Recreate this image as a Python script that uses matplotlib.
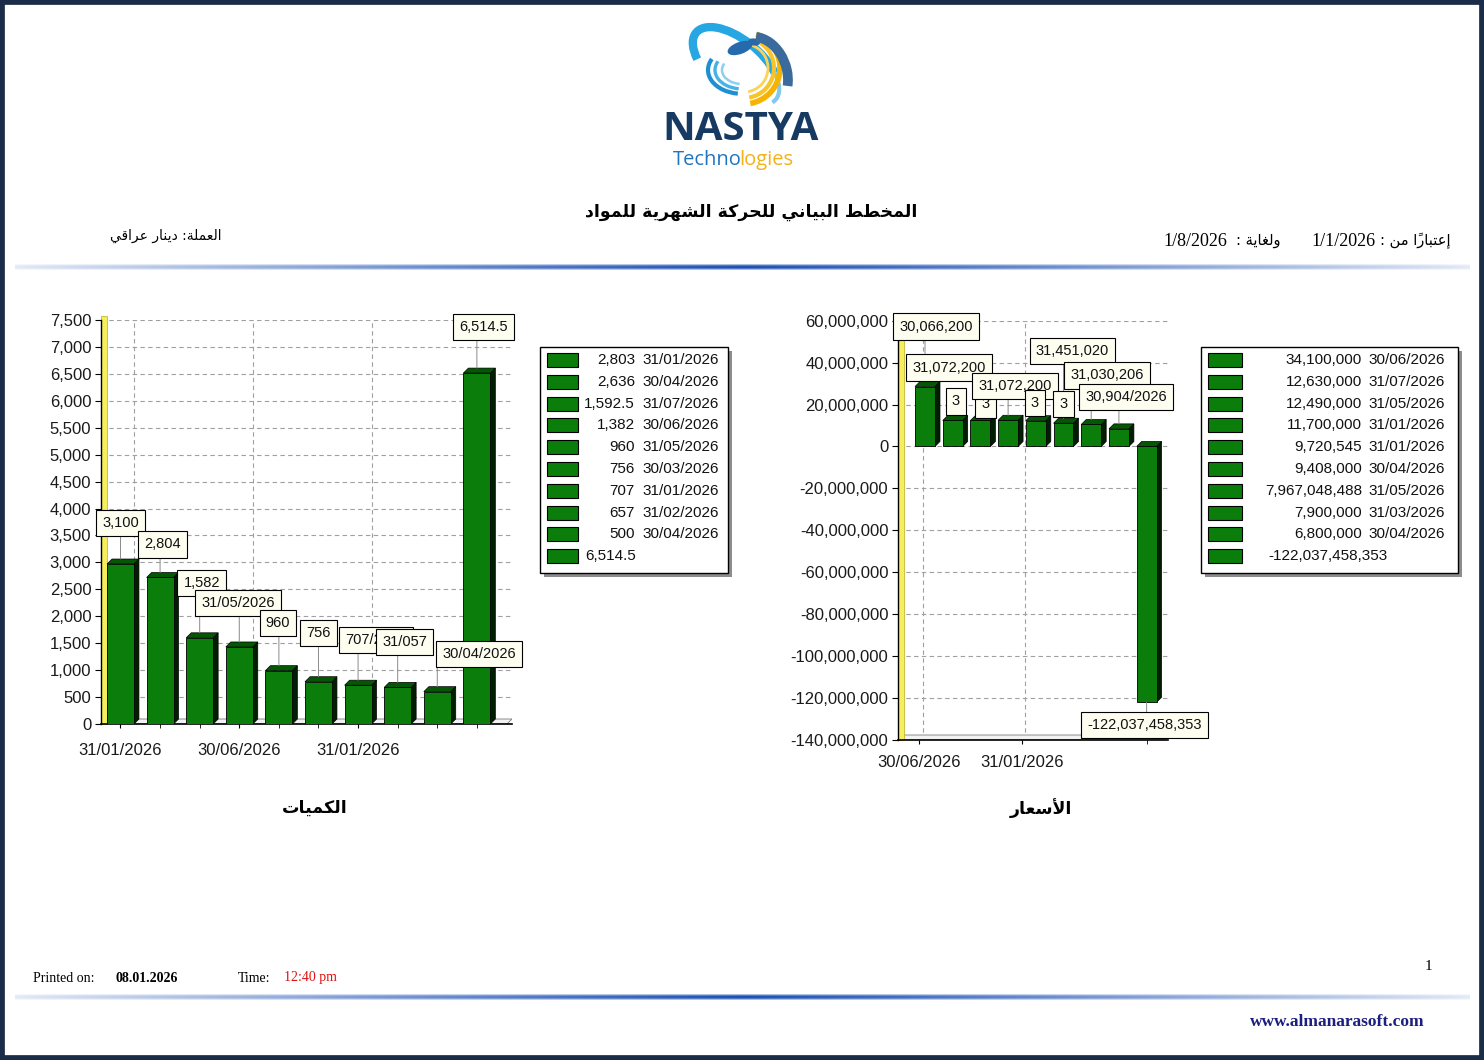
import numpy as np
import matplotlib
matplotlib.use("Agg")
import matplotlib.pyplot as plt
from matplotlib.patches import Rectangle, Polygon, Arc, Ellipse
from matplotlib.ticker import FuncFormatter, FixedLocator

W, H = 1484, 1060

qty_values = [2970, 2720, 1600, 1430, 990, 785, 720, 680, 600, 6514.5]
qty_labels = ["3,100", "2,804", "1,582", "31/05/2026", "960", "756",
              "707/2026", "31/057", "30/04/2026", "6,514.5"]
qty_xticks = ["31/01/2026", "30/06/2026", "31/01/2026"]
qty_legend_values = ["2,803", "2,636", "1,592.5", "1,382", "960", "756",
                     "707", "657", "500", "6,514.5"]
qty_legend_dates = ["31/01/2026", "30/04/2026", "31/07/2026", "30/06/2026",
                    "31/05/2026", "30/03/2026", "31/01/2026", "31/02/2026",
                    "30/04/2026", ""]

price_values = [28.6e6, 12.4e6, 12.4e6, 12.5e6, 12.3e6, 11.1e6, 10.5e6, 8.4e6, -122.0e6]
price_labels = ["30,066,200", "31,072,200", "3", "3", "31,072,200", "3", "3",
                "31,451,020", "31,030,206", "30,904/2026", "-122,037,458,353"]
price_label_bar = [0, 0, 1, 2, 3, 4, 5, 5, 6, 7, 8]
price_xticks = ["30/06/2026", "31/01/2026"]
price_legend_values = ["34,100,000", "12,630,000", "12,490,000", "11,700,000",
                       "9,720,545", "9,408,000", "7,967,048,488", "7,900,000",
                       "6,800,000", "-122,037,458,353"]
price_legend_dates = ["30/06/2026", "31/07/2026", "31/05/2026", "31/01/2026",
                      "31/01/2026", "30/04/2026", "31/05/2026", "31/03/2026",
                      "30/04/2026", ""]

# label box offsets from the bar top, in pixels (layout only)
qty_label_off = [(0, 36), (2, 28), (2, 50), (-1, 39), (-1, 43), (0, 44),
                 (18, 40), (7, 40), (42, 33), (7, 41)]
price_label_off = [(11, 55), (24, 14), (3, 14), (5, 11), (7, 29), (-1, 13),
                   (0, 14), (9, 67), (16, 44), (7, 27), (-2, -23)]

# ---- minimal arabic shaping (matplotlib has no RTL/joining) ----
AR_FORMS = {'آ': 0xFE81, 'أ': 0xFE83, 'إ': 0xFE87, 'ا': 0xFE8D, 'ب': 0xFE8F,
            'ة': 0xFE93, 'ت': 0xFE95, 'ث': 0xFE99, 'ج': 0xFE9D, 'ح': 0xFEA1,
            'خ': 0xFEA5, 'د': 0xFEA9, 'ذ': 0xFEAB, 'ر': 0xFEAD, 'ز': 0xFEAF,
            'س': 0xFEB1, 'ش': 0xFEB5, 'ص': 0xFEB9, 'ض': 0xFEBD, 'ط': 0xFEC1,
            'ظ': 0xFEC5, 'ع': 0xFEC9, 'غ': 0xFECD, 'ف': 0xFED1, 'ق': 0xFED5,
            'ك': 0xFED9, 'ل': 0xFEDD, 'م': 0xFEE1, 'ن': 0xFEE5, 'ه': 0xFEE9,
            'و': 0xFEED, 'ى': 0xFEEF, 'ي': 0xFEF1}
AR_RIGHT_ONLY = set('آأإادذرزوةى')
LAM_ALEF = {'آ': 0xFEF5, 'أ': 0xFEF7, 'إ': 0xFEF9, 'ا': 0xFEFB}


def is_mark(c):
    return '\u064b' <= c <= '\u0652'


def ar(text):
    """Shape arabic letters into presentation forms and reverse for display"""
    chars = list(text)
    n = len(chars)

    def neighbour(i, step):
        j = i + step
        while 0 <= j < n and is_mark(chars[j]):
            j += step
        return chars[j] if 0 <= j < n else None

    clusters = []
    i = 0
    while i < n:
        c = chars[i]
        if is_mark(c):
            if clusters:
                clusters[-1] += c
            else:
                clusters.append(c)
            i += 1
            continue
        if c not in AR_FORMS:
            clusters.append(c)
            i += 1
            continue
        prev = neighbour(i, -1)
        joins_prev = prev in AR_FORMS and prev not in AR_RIGHT_ONLY
        nxt = neighbour(i, 1)
        if c == 'ل' and nxt in LAM_ALEF:
            clusters.append(chr(LAM_ALEF[nxt] + (1 if joins_prev else 0)))
            j = i + 1
            while is_mark(chars[j]):
                j += 1
            i = j + 1
            continue
        joins_next = c not in AR_RIGHT_ONLY and nxt in AR_FORMS
        if joins_prev and joins_next:
            form = 3
        elif joins_prev:
            form = 1
        elif joins_next:
            form = 2
        else:
            form = 0
        clusters.append(chr(AR_FORMS[c] + form))
        i += 1
    return ''.join(reversed(clusters))


SANS = "Liberation Sans"
SERIF = "Liberation Serif"
ARAB = "DejaVu Sans"

FRONT = "#0a7d0a"
TOP = "#045804"
SIDE = "#021e02"
BOX_FC = "#fdfdf0"


def axes_px(fig, left, top, right, bottom):
    return fig.add_axes([left / W, 1 - bottom / H, (right - left) / W, (bottom - top) / H])


def draw_bars(ax, values, width, depth=5):
    x0, x1 = ax.get_xlim()
    y0, y1 = ax.get_ylim()
    dx = depth * (x1 - x0) / ax.bbox.width
    dy = depth * (y1 - y0) / ax.bbox.height
    pos = np.arange(len(values))
    for x, v in zip(pos, values):
        lo, hi = min(0, v), max(0, v)
        l, r = x - width / 2, x + width / 2
        ax.add_patch(Polygon([(r, lo), (r + dx, lo + dy), (r + dx, hi + dy), (r, hi)],
                             closed=True, fc=SIDE, ec="black", lw=0.5, zorder=3))
        ax.add_patch(Polygon([(l, hi), (l + dx, hi + dy), (r + dx, hi + dy), (r, hi)],
                             closed=True, fc=TOP, ec="black", lw=0.5, zorder=3))
        ax.add_patch(Rectangle((l, lo), width, hi - lo, fc=FRONT, ec="black",
                               lw=0.6, zorder=4))
    return pos, dx, dy


def style_chart(ax, ylim, xlim, yticks, fmt_pad):
    ax.set_xlim(*xlim)
    ax.set_ylim(*ylim)
    ax.set_facecolor("none")
    for s in ("top", "right"):
        ax.spines[s].set_visible(False)
    ax.spines["left"].set_linewidth(1.0)
    ax.spines["bottom"].set_linewidth(1.2)
    ax.yaxis.set_major_locator(FixedLocator(yticks))
    ax.yaxis.set_major_formatter(FuncFormatter(lambda v, p: f"{v:,.0f}"))
    ax.yaxis.grid(True, ls=(0, (4, 3)), color="#a0a0a0", lw=0.8, zorder=0)
    ax.set_axisbelow(True)
    ax.tick_params(axis="y", direction="out", length=4, width=0.8, labelsize=12, pad=3)
    ax.tick_params(axis="x", direction="out", length=3, width=0.8, labelsize=12, pad=fmt_pad)
    for lab in ax.get_yticklabels() + ax.get_xticklabels():
        lab.set_fontfamily(SANS)
        lab.set_color("#1a1a1a")
    # yellow left wall
    ax.add_patch(Rectangle((0, 0), 6 / ax.bbox.width, 1.01, transform=ax.transAxes,
                           fc="#f6ee5c", ec="#b9ad20", lw=0.5, zorder=2, clip_on=False))


def floor(ax, base, dx, dy):
    x0, x1 = ax.get_xlim()
    ax.add_patch(Polygon([(x0, base), (x1 - dx, base), (x1, base + dy), (x0 + dx, base + dy)],
                         closed=True, fc="#f2f2f2", ec="#7a7a7a", lw=0.6, zorder=1))


def label_boxes(ax, pos, values, texts, bars, offsets, dy):
    for k, (t, b, off) in enumerate(zip(texts, bars, offsets)):
        v = values[b]
        y = v + dy if v >= 0 else v
        # vertical leader from the bar up (or down) to the box
        ax.annotate("", xy=(pos[b], y), xytext=(0, off[1]), textcoords="offset pixels",
                    annotation_clip=False, zorder=9,
                    arrowprops=dict(arrowstyle="-", color="#8a8a8a", lw=0.7,
                                    shrinkA=0, shrinkB=0))
        ax.annotate(t, xy=(pos[b], y), xytext=off, textcoords="offset pixels",
                    ha="center", va="center", fontsize=10.5, fontfamily=SANS,
                    color="#111111", annotation_clip=False, zorder=10 + k,
                    bbox=dict(boxstyle="square,pad=0.42", fc=BOX_FC, ec="black", lw=0.8))


def legend_box(page, x0, y0, x1, y1, values, dates, sw_x0, sw_x1, val_right, date_left, last_left):
    page.add_patch(Rectangle((x0 + 4, y0 + 4), x1 - x0, y1 - y0, fc="#8c8c8c", ec="none", zorder=2))
    page.add_patch(Rectangle((x0, y0), x1 - x0, y1 - y0, fc="white", ec="black", lw=1.0, zorder=3))
    for i, (v, d) in enumerate(zip(values, dates)):
        yc = y0 + 13 + i * 21.8
        page.add_patch(Rectangle((sw_x0, yc - 7), sw_x1 - sw_x0, 14, fc=FRONT, ec="black",
                                 lw=0.8, zorder=4))
        if d:
            page.text(val_right, yc, v, ha="right", va="center", fontsize=11,
                      fontfamily=SANS, color="#111111", zorder=5)
            page.text(date_left, yc, d, ha="left", va="center", fontsize=11,
                      fontfamily=SANS, color="#111111", zorder=5)
        else:
            page.text(last_left, yc, v, ha="left", va="center", fontsize=11,
                      fontfamily=SANS, color="#111111", zorder=5)


def gradient_line(page, x0, x1, yc):
    n = 600
    t = np.linspace(-1, 1, n)
    alpha_x = 0.12 + 0.88 * (1 - np.abs(t)) ** 0.9
    alpha_y = np.array([0.35, 0.85, 1.0, 0.85, 0.35])
    img = np.zeros((5, n, 4))
    img[..., 0] = 0.05
    img[..., 1] = 0.27
    img[..., 2] = 0.68
    img[..., 3] = alpha_y[:, None] * alpha_x[None, :]
    page.imshow(img, extent=(x0, x1, yc + 3, yc - 3), aspect="auto", zorder=2,
                interpolation="bilinear")


def draw_logo(page):
    cx, cy = 744, 68
    # blue swoosh ring
    page.add_patch(Arc((cx - 8, cy - 2), 104, 52, angle=40, theta1=150, theta2=330,
                       color="#26a6e2", lw=6, zorder=3))
    page.add_patch(Arc((cx - 8, cy - 2), 104, 52, angle=40, theta1=330, theta2=365,
                       color="#7fc9ee", lw=3, zorder=3))
    # yellow stripes on the globe
    for k, r in enumerate([36, 30, 24]):
        page.add_patch(Arc((cx, cy), 2 * r, 2 * r, theta1=-70, theta2=80,
                           color=["#f6b400", "#f8c42a", "#fbd35a"][k], lw=4 - k, zorder=3))
    # blue stripes on the left side
    for k, r in enumerate([34, 27, 20]):
        page.add_patch(Arc((cx - 2, cy + 2), 2 * r, 1.4 * r, theta1=100, theta2=200,
                           color=["#1d8fd3", "#45b2e8", "#8ccfee"][k], lw=3 - k * 0.6, zorder=3))
    # continents
    page.add_patch(Ellipse((cx - 4, cy - 20), 26, 12, angle=-20, fc="#2769ad", ec="none", zorder=3))
    page.add_patch(Ellipse((cx + 10, cy - 26), 12, 7, angle=10, fc="#2769ad", ec="none", zorder=3))
    # dark blue swoosh on the right
    page.add_patch(Arc((cx + 14, cy + 6), 58, 76, angle=-18, theta1=-75, theta2=40,
                       color="#3b6a9c", lw=7, zorder=3))
    page.text(741, 129, "NASTYA", ha="center", va="center", fontsize=29, fontweight="bold",
              fontfamily="Open Sans", color="#173a62", zorder=4)
    page.text(742, 160, "Techno", ha="right", va="center", fontsize=14.5,
              fontfamily="Open Sans", color="#1f76c0", zorder=4)
    page.text(739, 160, "logies", ha="left", va="center", fontsize=14.5,
              fontfamily="Open Sans", color="#f3b11a", zorder=4)


def plot():
    fig = plt.figure(figsize=(W / 100, H / 100), dpi=100)
    fig.patch.set_facecolor("white")

    page = fig.add_axes([0, 0, 1, 1], zorder=0)
    page.set_xlim(0, W)
    page.set_ylim(H, 0)
    page.axis("off")

    # frame and separators
    page.add_patch(Rectangle((0, 0), W, H, fill=False, ec="#1b2c48", lw=7, zorder=20))
    gradient_line(page, 15, 1470, 267)
    gradient_line(page, 15, 1470, 997)
    draw_logo(page)

    # header texts
    page.text(751, 212, ar("المخطط البياني للحركة الشهرية للمواد"), ha="center", va="center",
              fontsize=12.5, fontweight="bold", fontfamily=ARAB, color="black")
    page.text(222, 236, ar("العملة: دينار عراقي"), ha="right", va="center",
              fontsize=10, fontfamily=ARAB, color="black")
    page.text(1450, 241, ar("إعتباراً من :"), ha="right", va="center",
              fontsize=10.5, fontfamily=ARAB, color="black")
    page.text(1343, 241, "1/1/2026", ha="center", va="center", fontsize=13,
              fontfamily=SERIF, color="black")
    page.text(1280, 241, ar("ولغاية :"), ha="right", va="center",
              fontsize=10.5, fontfamily=ARAB, color="black")
    page.text(1195, 241, "1/8/2026", ha="center", va="center", fontsize=13,
              fontfamily=SERIF, color="black")

    # chart captions
    page.text(315, 808, ar("الكميات"), ha="center", va="center", fontsize=12.5,
              fontweight="bold", fontfamily=ARAB, color="black")
    page.text(1041, 808, ar("الأسعار"), ha="center", va="center", fontsize=12.5,
              fontweight="bold", fontfamily=ARAB, color="black")

    # footer
    page.text(33, 978, "Printed on:", ha="left", va="center", fontsize=10, fontfamily=SERIF)
    page.text(116, 978, "08.01.2026", ha="left", va="center", fontsize=10,
              fontweight="bold", fontfamily=SERIF)
    page.text(238, 978, "Time:", ha="left", va="center", fontsize=10, fontfamily=SERIF)
    page.text(284, 978, "12:40 pm", ha="left", va="center", fontsize=10,
              fontfamily=SERIF, color="#e01010")
    page.text(1428, 967, "1", ha="center", va="center", fontsize=11, fontfamily=SERIF)
    page.text(1425, 1022, "www.almanarasoft.com", ha="right", va="center", fontsize=12.5,
              fontweight="bold", fontfamily=SERIF, color="#1a1f80")

    # ---- quantities chart ----
    ax1 = axes_px(fig, 101, 320, 512, 724)
    ax1.set_zorder(1)
    style_chart(ax1, (0, 7500), (-0.492, 9.887), np.arange(0, 7501, 500), 11)
    pos1, dx1, dy1 = draw_bars(ax1, qty_values, 0.68)
    floor(ax1, 0, dx1, dy1)
    ax1.set_xticks([0, 3, 6])
    ax1.set_xticklabels(qty_xticks, fontfamily=SANS, color="#1a1a1a")
    ax1.set_xticks(pos1, minor=True)
    ax1.tick_params(axis="x", which="minor", length=3, width=0.6)
    for t in [0, 3, 6]:
        ax1.axvline(t + 0.34, ls=(0, (4, 3)), color="#a0a0a0", lw=0.8, zorder=0)
    label_boxes(ax1, pos1, qty_values, qty_labels, list(range(len(qty_labels))),
                qty_label_off, dy1)

    # ---- prices chart ----
    ax2 = axes_px(fig, 898, 320.7, 1168, 740)
    ax2.set_zorder(1)
    style_chart(ax2, (-140e6, 60e6), (-0.975, 8.772), np.arange(-140e6, 60e6 + 1, 20e6), 8)
    pos2, dx2, dy2 = draw_bars(ax2, price_values, 0.72)
    floor(ax2, -140e6, dx2, dy2)
    ax2.set_xticks([-0.2, 3.5])
    ax2.set_xticklabels(price_xticks, fontfamily=SANS, color="#1a1a1a")
    ax2.set_xticks([8], minor=True)
    ax2.tick_params(axis="x", which="minor", length=3, width=0.6)
    for t in [-0.2, 3.5]:
        ax2.axvline(t + 0.12, ls=(0, (4, 3)), color="#a0a0a0", lw=0.8, zorder=0)
    label_boxes(ax2, pos2, price_values, price_labels, price_label_bar,
                price_label_off, dy2)

    # legends
    legend_box(page, 540, 347, 728, 573, qty_legend_values, qty_legend_dates,
               547, 578, 635, 642, 585)
    legend_box(page, 1201, 347, 1458, 573, price_legend_values, price_legend_dates,
               1208, 1242, 1362, 1368, 1268)

    plt.savefig("out.png", dpi=100, facecolor="white")


if __name__ == "__main__":
    plot()
